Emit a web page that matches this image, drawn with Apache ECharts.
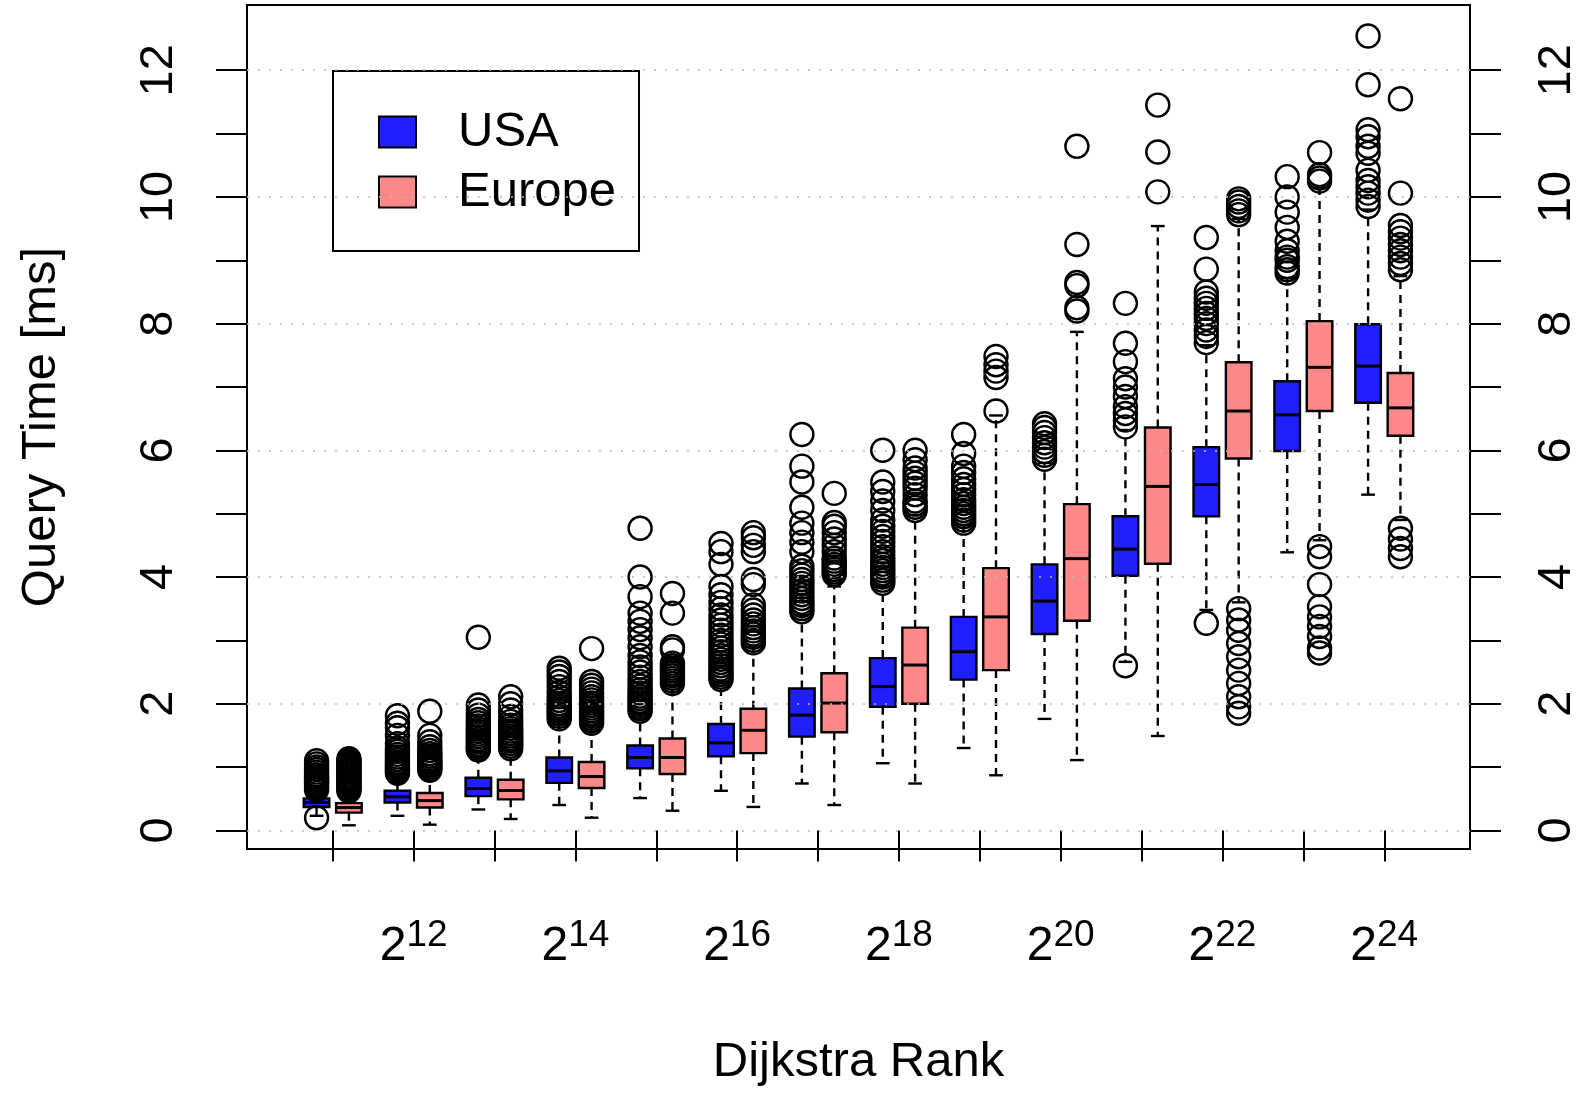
<!DOCTYPE html>
<html>
<head>
<meta charset="utf-8">
<script src="https://cdn.jsdelivr.net/npm/echarts@6/dist/echarts.min.js"></script>
<style>
  html, body { margin: 0; padding: 0; background: #ffffff; }
  #chart { width: 1596px; height: 1095px; }
</style>
</head>
<body>
<div id="chart"></div>
<script>
// ---------------- data ----------------
const ranks = [11, 12, 13, 14, 15, 16, 17, 18, 19, 20, 21, 22, 23, 24];
const xLabelRanks = [12, 14, 16, 18, 20, 22, 24];
const yTickValues = [0, 1, 2, 3, 4, 5, 6, 7, 8, 9, 10, 11, 12];
const yLabelValues = [0, 2, 4, 6, 8, 10, 12];
const gridValues = [0, 2, 4, 6, 8, 10, 12];

// [lower whisker, Q1, median, Q3, upper whisker]
const usaBoxes = [
  [0.23, 0.37, 0.44, 0.505, 0.62],
  [0.23, 0.44, 0.53, 0.625, 0.88],
  [0.33, 0.54, 0.66, 0.83, 1.24],
  [0.40, 0.75, 0.94, 1.15, 1.72],
  [0.51, 0.98, 1.15, 1.34, 1.85],
  [0.625, 1.17, 1.38, 1.68, 2.35],
  [0.74, 1.48, 1.82, 2.24, 3.40],
  [1.06, 1.95, 2.27, 2.72, 3.85],
  [1.30, 2.38, 2.82, 3.37, 4.82],
  [1.76, 3.10, 3.62, 4.20, 5.80],
  [2.66, 4.02, 4.44, 4.96, 6.32],
  [3.48, 4.96, 5.46, 6.05, 7.66],
  [4.39, 5.99, 6.56, 7.09, 8.72],
  [5.30, 6.75, 7.33, 7.99, 9.80]
];
const europeBoxes = [
  [0.08, 0.28, 0.36, 0.43, 0.60],
  [0.09, 0.36, 0.47, 0.59, 0.92],
  [0.18, 0.49, 0.63, 0.80, 1.25],
  [0.20, 0.67, 0.85, 1.08, 1.66],
  [0.31, 0.89, 1.15, 1.45, 2.28],
  [0.37, 1.22, 1.58, 1.92, 2.90],
  [0.40, 1.55, 2.01, 2.48, 3.85],
  [0.74, 2.00, 2.61, 3.20, 4.98],
  [0.87, 2.53, 3.37, 4.14, 6.55],
  [1.11, 3.31, 4.29, 5.15, 7.87],
  [1.49, 4.21, 5.43, 6.36, 9.54],
  [3.60, 5.87, 6.62, 7.39, 9.65],
  [4.58, 6.62, 7.31, 8.04, 10.15],
  [4.90, 6.23, 6.67, 7.22, 8.75]
];

const usaOutliers = [
  [0.2, 0.64, 0.67, 0.7, 0.73, 0.76, 0.79, 0.82, 0.85, 0.88, 0.92, 0.96, 1.0, 1.05, 1.1],
  [0.9, 0.93, 0.96, 0.99, 1.02, 1.05, 1.08, 1.12, 1.16, 1.2, 1.25, 1.3, 1.37, 1.5, 1.62, 1.69, 1.81],
  [1.27, 1.3, 1.33, 1.36, 1.4, 1.44, 1.48, 1.52, 1.56, 1.6, 1.65, 1.7, 1.75, 1.82, 1.9, 1.98, 3.05],
  [1.76, 1.8, 1.84, 1.88, 1.92, 1.96, 2.0, 2.05, 2.11, 2.18, 2.27, 2.35, 2.43, 2.5, 2.56],
  [1.88, 1.92, 1.96, 2.0, 2.04, 2.08, 2.12, 2.17, 2.22, 2.28, 2.35, 2.42, 2.5, 2.58, 2.66, 2.76, 2.9, 3.04, 3.17, 3.3, 3.43, 3.69, 4.0, 4.77],
  [2.38, 2.42, 2.46, 2.5, 2.55, 2.6, 2.65, 2.7, 2.76, 2.82, 2.88, 2.94, 3.0, 3.08, 3.16, 3.24, 3.32, 3.4, 3.5, 3.6, 3.72, 3.85, 4.2, 4.4, 4.53],
  [3.45, 3.5, 3.55, 3.6, 3.66, 3.72, 3.78, 3.84, 3.9, 3.96, 4.03, 4.1, 4.17, 4.4, 4.55, 4.7, 4.85, 5.1, 5.5, 5.75, 6.25],
  [3.9, 3.95, 4.0, 4.05, 4.1, 4.15, 4.2, 4.26, 4.32, 4.4, 4.48, 4.56, 4.64, 4.72, 4.8, 4.9, 5.05, 5.2, 5.35, 5.5, 6.0],
  [4.85, 4.9, 4.95, 5.0, 5.05, 5.1, 5.16, 5.22, 5.3, 5.38, 5.46, 5.55, 5.65, 5.75, 5.95, 6.25],
  [5.86, 5.92, 5.98, 6.05, 6.12, 6.2, 6.28, 6.36, 6.42],
  [2.6, 6.37, 6.48, 6.58, 6.69, 6.85, 7.0, 7.13, 7.4, 7.69, 8.32],
  [3.27, 7.7, 7.8, 7.9, 8.0, 8.08, 8.16, 8.24, 8.32, 8.4, 8.5, 8.86, 9.36],
  [8.8, 8.85, 8.9, 9.0, 9.05, 9.15, 9.3, 9.52, 9.76, 10.0, 10.32],
  [9.85, 9.95, 10.06, 10.16, 10.26, 10.42, 10.69, 10.8, 10.95, 11.06, 11.77, 12.54]
];
const europeOutliers = [
  [0.62, 0.65, 0.68, 0.71, 0.74, 0.77, 0.8, 0.83, 0.86, 0.89, 0.92, 0.95, 0.98, 1.01, 1.04, 1.07, 1.1, 1.13],
  [0.95, 0.98, 1.01, 1.04, 1.07, 1.1, 1.13, 1.17, 1.21, 1.26, 1.32, 1.4, 1.5, 1.88],
  [1.29, 1.33, 1.37, 1.41, 1.45, 1.49, 1.53, 1.57, 1.61, 1.66, 1.72, 1.8, 1.9, 2.0, 2.11],
  [1.69, 1.73, 1.77, 1.81, 1.85, 1.89, 1.93, 1.97, 2.01, 2.06, 2.11, 2.17, 2.23, 2.29, 2.35, 2.87],
  [2.32, 2.36, 2.4, 2.44, 2.48, 2.52, 2.56, 2.6, 2.64, 2.85, 2.9, 3.43, 3.74],
  [2.96, 3.0, 3.05, 3.1, 3.15, 3.2, 3.26, 3.32, 3.4, 3.48, 3.56, 3.88, 3.96, 4.4, 4.5, 4.62, 4.7],
  [4.04, 4.08, 4.12, 4.16, 4.2, 4.25, 4.3, 4.4, 4.5, 4.6, 4.7, 4.8, 4.86, 5.32],
  [5.05, 5.1, 5.15, 5.2, 5.3, 5.4, 5.48, 5.56, 5.64, 5.72, 5.85, 6.0],
  [6.62, 7.15, 7.25, 7.35, 7.48],
  [8.2, 8.25, 8.6, 8.65, 9.25, 10.8],
  [10.08, 10.71, 11.45],
  [1.85, 1.95, 2.11, 2.32, 2.53, 2.74, 2.95, 3.16, 3.32, 3.5, 9.72, 9.78, 9.85, 9.92, 9.97],
  [2.8, 2.88, 3.06, 3.22, 3.37, 3.53, 3.88, 4.32, 4.48, 10.25, 10.3, 10.35, 10.7],
  [4.32, 4.45, 4.6, 4.77, 8.85, 8.95, 9.05, 9.15, 9.25, 9.35, 9.45, 9.55, 10.06, 11.55]
];

// ---------------- layout / style ----------------
const GROUP_OFFSET = 0.2;
const BOX_HALF = 0.158;
const CAP_HALF = 0.085;
const USA_COLOR = '#2020ff';
const EUROPE_COLOR = '#ff8888';
const FONT = '"Liberation Sans", Arial, Helvetica, sans-serif';
const LW = 2.4;

const usaBoxData = ranks.map((r, i) => [r - GROUP_OFFSET].concat(usaBoxes[i]));
const europeBoxData = ranks.map((r, i) => [r + GROUP_OFFSET].concat(europeBoxes[i]));
const usaOutlierData = [];
ranks.forEach((r, i) => usaOutliers[i].forEach(v => usaOutlierData.push([r - GROUP_OFFSET, v])));
const europeOutlierData = [];
ranks.forEach((r, i) => europeOutliers[i].forEach(v => europeOutlierData.push([r + GROUP_OFFSET, v])));

function makeRender(color) {
  return function (params, api) {
    const x = api.value(0);
    const lo = api.value(1), q1 = api.value(2), md = api.value(3), q3 = api.value(4), hi = api.value(5);
    const halfW = api.size([BOX_HALF, 0])[0];
    const capHalf = api.size([CAP_HALF, 0])[0];
    const pLo = api.coord([x, lo]);
    const pQ1 = api.coord([x, q1]);
    const pMd = api.coord([x, md]);
    const pQ3 = api.coord([x, q3]);
    const pHi = api.coord([x, hi]);
    const cx = pMd[0];
    const dash = { stroke: '#000', lineWidth: LW, lineDash: [8, 6], fill: null };
    const solid = { stroke: '#000', lineWidth: LW, fill: null };
    return {
      type: 'group',
      children: [
        { type: 'line', shape: { x1: cx, y1: pQ1[1], x2: cx, y2: pLo[1] }, style: dash },
        { type: 'line', shape: { x1: cx, y1: pQ3[1], x2: cx, y2: pHi[1] }, style: dash },
        { type: 'line', shape: { x1: cx - capHalf, y1: pLo[1], x2: cx + capHalf, y2: pLo[1] }, style: solid },
        { type: 'line', shape: { x1: cx - capHalf, y1: pHi[1], x2: cx + capHalf, y2: pHi[1] }, style: solid },
        { type: 'rect', shape: { x: cx - halfW, y: pQ3[1], width: 2 * halfW, height: pQ1[1] - pQ3[1] },
          style: { fill: color, stroke: '#000', lineWidth: LW } },
        { type: 'line', shape: { x1: cx - halfW, y1: pMd[1], x2: cx + halfW, y2: pMd[1] },
          style: { stroke: '#000', lineWidth: 3 } }
      ]
    };
  };
}

const yAxisCommon = {
  type: 'value',
  min: -0.294,
  max: 13.03,
  axisLine: { show: false },
  splitLine: { show: false },
  axisTick: { show: true, inside: false, length: 31, customValues: yTickValues,
              lineStyle: { color: '#000', width: 2 } },
  axisLabel: { show: true, rotate: 90, customValues: yLabelValues, fontSize: 47,
               fontFamily: FONT, color: '#000', margin: 64 }
};

const option = {
  animation: false,
  backgroundColor: '#ffffff',
  grid: {
    left: 247, top: 5, width: 1223, height: 844,
    show: true, borderColor: '#000', borderWidth: 2, backgroundColor: 'transparent'
  },
  legend: {
    orient: 'vertical',
    left: 333, top: 71,
    selectedMode: false,
    backgroundColor: '#fff',
    borderColor: '#000', borderWidth: 2, borderRadius: 0,
    padding: [36, 23, 34, 45],
    itemWidth: 37, itemHeight: 31, itemGap: 10,
    textStyle: { fontSize: 49, fontFamily: FONT, color: '#000', lineHeight: 50, padding: [0, 0, 0, 37] },
    data: [
      { name: 'USA', icon: 'rect', itemStyle: { color: USA_COLOR, borderColor: '#000', borderWidth: 2 } },
      { name: 'Europe', icon: 'rect', itemStyle: { color: EUROPE_COLOR, borderColor: '#000', borderWidth: 2 } }
    ]
  },
  xAxis: {
    type: 'value',
    min: 9.94,
    max: 25.06,
    name: 'Dijkstra Rank',
    nameLocation: 'middle',
    nameGap: 189,
    nameTextStyle: { fontSize: 49, fontFamily: FONT, color: '#000' },
    axisLine: { show: false },
    splitLine: { show: false },
    axisTick: { show: true, inside: false, length: 31, customValues: ranks,
                lineStyle: { color: '#000', width: 2 } },
    axisLabel: {
      show: true, customValues: xLabelRanks, margin: 68,
      formatter: function (v) { return '{b|2}{s|' + v + '}'; },
      rich: {
        b: { fontSize: 48, fontFamily: FONT, color: '#000', lineHeight: 54, verticalAlign: 'bottom' },
        s: { fontSize: 37, fontFamily: FONT, color: '#000', lineHeight: 54, verticalAlign: 'top' }
      }
    }
  },
  yAxis: [
    Object.assign({}, yAxisCommon, {
      position: 'left',
      name: 'Query Time [ms]',
      nameLocation: 'middle',
      nameRotate: 90,
      nameGap: 181,
      nameTextStyle: { fontSize: 49, fontFamily: FONT, color: '#000' }
    }),
    Object.assign({}, yAxisCommon, { position: 'right' })
  ],
  series: [
    {
      name: 'USA', type: 'custom', renderItem: makeRender(USA_COLOR),
      itemStyle: { color: USA_COLOR },
      encode: { x: 0, y: [1, 2, 3, 4, 5] },
      data: usaBoxData, z: 2
    },
    {
      name: 'Europe', type: 'custom', renderItem: makeRender(EUROPE_COLOR),
      itemStyle: { color: EUROPE_COLOR },
      encode: { x: 0, y: [1, 2, 3, 4, 5] },
      data: europeBoxData, z: 2
    },
    {
      name: 'USA outliers', type: 'scatter', symbol: 'circle', symbolSize: 23,
      itemStyle: { color: 'rgba(0,0,0,0)', borderColor: '#000', borderWidth: LW, opacity: 1 },
      data: usaOutlierData, z: 3, silent: true
    },
    {
      name: 'Europe outliers', type: 'scatter', symbol: 'circle', symbolSize: 23,
      itemStyle: { color: 'rgba(0,0,0,0)', borderColor: '#000', borderWidth: LW, opacity: 1 },
      data: europeOutlierData, z: 3, silent: true,
      markLine: {
        silent: true,
        symbol: ['none', 'none'],
        label: { show: false },
        lineStyle: { color: '#bbbbbb', type: [2, 9], width: 1.5 },
        emphasis: { disabled: true },
        data: gridValues.map(v => ({ yAxis: v }))
      }
    }
  ]
};

const chart = echarts.init(document.getElementById('chart'), null, { renderer: 'canvas' });
chart.setOption(option);
</script>
</body>
</html>
